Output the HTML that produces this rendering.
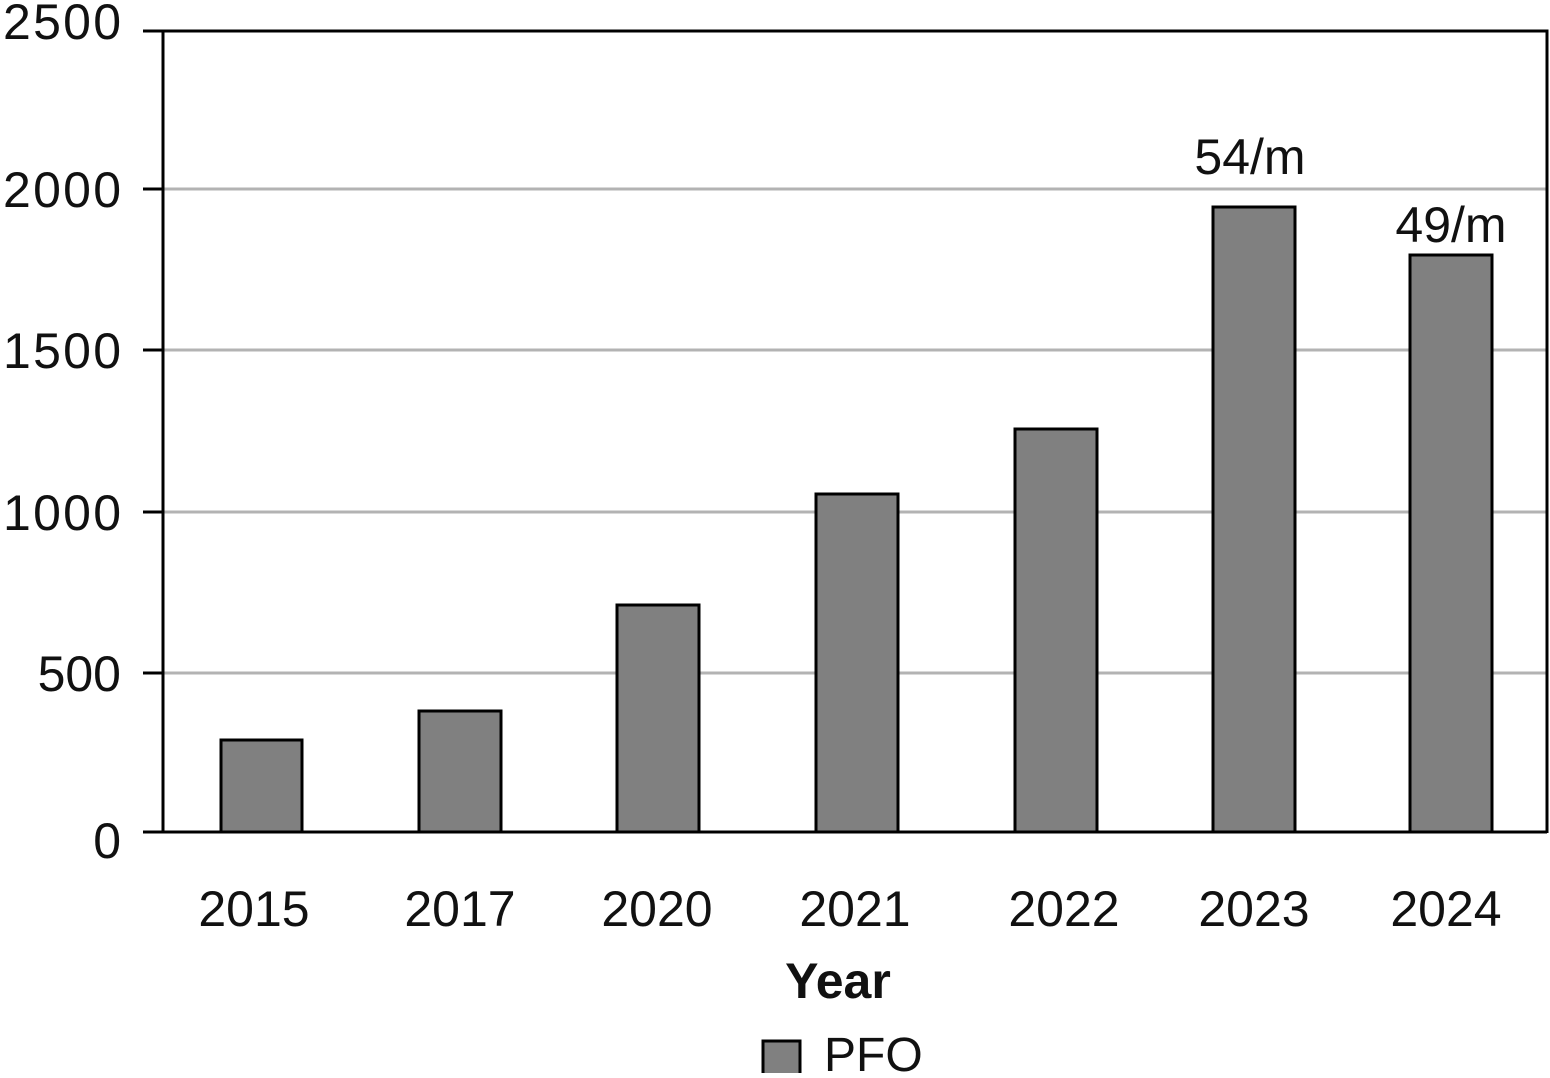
<!DOCTYPE html>
<html><head><meta charset="utf-8"><style>html,body{margin:0;padding:0;background:#fff}</style></head>
<body>
<svg width="1550" height="1073" xmlns="http://www.w3.org/2000/svg" font-family="Liberation Sans, DejaVu Sans, sans-serif">
<g stroke="#b3b3b3" stroke-width="3">
<line x1="163" y1="189" x2="1547" y2="189"/>
<line x1="163" y1="350" x2="1547" y2="350"/>
<line x1="163" y1="512" x2="1547" y2="512"/>
<line x1="163" y1="673" x2="1547" y2="673"/>
</g>
<g fill="#808080" stroke="#000" stroke-width="3">
<rect x="221" y="740" width="81" height="92"/>
<rect x="419" y="711" width="82" height="121"/>
<rect x="617" y="605" width="82" height="227"/>
<rect x="816" y="494" width="82" height="338"/>
<rect x="1015" y="429" width="82" height="403"/>
<rect x="1213" y="207" width="82" height="625"/>
<rect x="1410" y="255" width="82" height="577"/>
</g>
<g stroke="#000" stroke-width="3" fill="none">
<line x1="163" y1="30" x2="163" y2="833"/>
<polyline points="143,31 1547,31 1547,833"/>
<line x1="143" y1="832" x2="1547" y2="832"/>
<line x1="143" y1="189" x2="163" y2="189"/>
<line x1="143" y1="350" x2="163" y2="350"/>
<line x1="143" y1="512" x2="163" y2="512"/>
<line x1="143" y1="673" x2="163" y2="673"/>
</g>
<g font-size="50" text-anchor="end" fill="#111">
<text x="121" y="39" textLength="118">2500</text>
<text x="121" y="207" textLength="118">2000</text>
<text x="121" y="368" textLength="118">1500</text>
<text x="121" y="530" textLength="118">1000</text>
<text x="121" y="691">500</text>
<text x="121" y="858">0</text>
</g>
<g font-size="50" text-anchor="middle" fill="#111">
<text x="254" y="926">2015</text>
<text x="460" y="926">2017</text>
<text x="657" y="926">2020</text>
<text x="855" y="926">2021</text>
<text x="1064" y="926">2022</text>
<text x="1254" y="926">2023</text>
<text x="1446" y="926">2024</text>
<text x="1250" y="174">54/m</text>
<text x="1451" y="242">49/m</text>
<text x="838" y="998" font-weight="bold">Year</text>
</g>
<rect x="763" y="1041" width="37" height="34" fill="#808080" stroke="#000" stroke-width="3"/>
<text x="824" y="1071" font-size="48" fill="#111">PFO</text>
</svg>
</body></html>
